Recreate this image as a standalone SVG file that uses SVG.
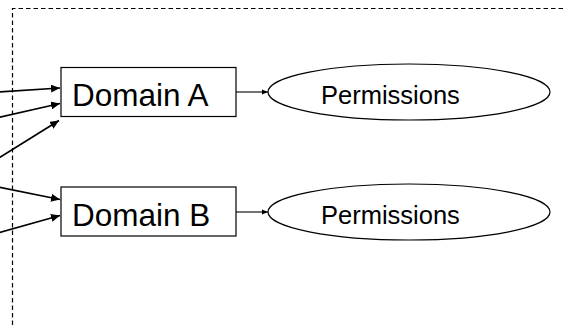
<svg xmlns="http://www.w3.org/2000/svg" width="565" height="327" viewBox="0 0 565 327">
  <style>
    .frame { fill: none; stroke: #000; stroke-width: 1.2; stroke-dasharray: 4.5 3; }
    .box { fill: #fff; stroke: #000; stroke-width: 1.2; }
    .oval { fill: #fff; stroke: #000; stroke-width: 1.2; }
    .in { fill: none; stroke: #000; stroke-width: 1.7; marker-end: url(#headL); }
    .out { fill: none; stroke: #000; stroke-width: 1.1; marker-end: url(#headS); }
    .label { font-family: "Liberation Sans", Arial, sans-serif; fill: #000; }
    .big { font-size: 31.5px; }
    .small { font-size: 25.5px; }
  </style>
  <defs>
    <marker id="headL" markerUnits="userSpaceOnUse" markerWidth="10" markerHeight="8" refX="9" refY="4" orient="auto">
      <path d="M0,0 L9,4 L0,8 Z" fill="#000"/>
    </marker>
    <marker id="headS" markerUnits="userSpaceOnUse" markerWidth="7" markerHeight="6" refX="6" refY="3" orient="auto">
      <path d="M0,0.5 L6,3 L0,5.5 Z" fill="#000"/>
    </marker>
  </defs>

  <rect width="565" height="327" fill="#fff"/>

  <!-- dashed boundary, continues past the right and bottom edges -->
  <path class="frame" d="M12.5,340 L12.5,8.5 L580,8.5"/>

  <g id="connectors">
    <line class="in" x1="-2" y1="92" x2="60" y2="88"/>
    <line class="in" x1="-2" y1="117.5" x2="60" y2="103.5"/>
    <line class="in" x1="-2" y1="158.5" x2="59" y2="120.5"/>
    <line class="in" x1="-2" y1="187" x2="60" y2="199.5"/>
    <line class="in" x1="-2" y1="233" x2="60" y2="215.5"/>
    <line class="out" x1="236" y1="92" x2="268" y2="92"/>
    <line class="out" x1="236" y1="212" x2="268" y2="212"/>
  </g>

  <g id="domain-a">
    <rect class="box" x="61" y="67.5" width="175" height="49"/>
    <text class="label big" x="72" y="105.5">Domain A</text>
  </g>

  <g id="domain-b">
    <rect class="box" x="61" y="187" width="175" height="49"/>
    <text class="label big" x="72" y="226">Domain B</text>
  </g>

  <g id="permissions-a">
    <ellipse class="oval" cx="409" cy="92" rx="141" ry="28"/>
    <text class="label small" x="321" y="104">Permissions</text>
  </g>

  <g id="permissions-b">
    <ellipse class="oval" cx="409" cy="212" rx="141" ry="28"/>
    <text class="label small" x="321" y="224">Permissions</text>
  </g>
</svg>
